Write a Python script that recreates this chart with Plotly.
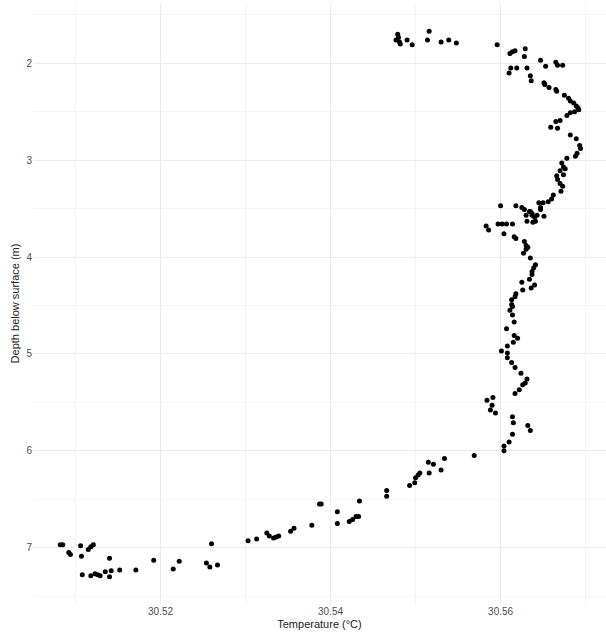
import plotly.graph_objects as go

# Temperature (°C) and depth below surface (m)
temperature = [
    30.5479, 30.5480, 30.5477, 30.5481, 30.5482, 30.5490, 30.5496, 30.5516, 30.5514, 30.5530,
    30.5539, 30.5548, 30.5596, 30.5611, 30.5614, 30.5617, 30.5629, 30.5628, 30.5647, 30.5653,
    30.5665, 30.5667, 30.5673, 30.5610, 30.5612, 30.5619, 30.5631, 30.5635, 30.5636, 30.5651,
    30.5652, 30.5657, 30.5665, 30.5666, 30.5675, 30.5680, 30.5682, 30.5686, 30.5689, 30.5691,
    30.5692, 30.5687, 30.5682, 30.5678, 30.5670, 30.5665, 30.5659, 30.5667, 30.5682, 30.5689,
    30.5693, 30.5694, 30.5690, 30.5688, 30.5678, 30.5672, 30.5674, 30.5676, 30.5670, 30.5674,
    30.5666, 30.5667, 30.5670, 30.5673, 30.5671, 30.5662, 30.5660, 30.5656, 30.5650, 30.5645,
    30.5600, 30.5618, 30.5625, 30.5628, 30.5634, 30.5637, 30.5647, 30.5647, 30.5630, 30.5635,
    30.5637, 30.5640, 30.5643, 30.5651, 30.5631, 30.5638, 30.5641, 30.5583, 30.5586, 30.5597,
    30.5602, 30.5607, 30.5614, 30.5604, 30.5616, 30.5618, 30.5628, 30.5630, 30.5632, 30.5630,
    30.5627, 30.5635, 30.5641, 30.5639, 30.5637, 30.5637, 30.5634, 30.5625, 30.5640, 30.5636,
    30.5626, 30.5618, 30.5617, 30.5613, 30.5613, 30.5614, 30.5611, 30.5614, 30.5616, 30.5607,
    30.5616, 30.5620, 30.5615, 30.5608, 30.5601, 30.5608, 30.5608, 30.5613, 30.5617, 30.5624,
    30.5631, 30.5629, 30.5626, 30.5622, 30.5617, 30.5591, 30.5584, 30.5590, 30.5588, 30.5594,
    30.5614, 30.5615, 30.5632, 30.5635, 30.5614, 30.5610, 30.5604, 30.5604, 30.5569, 30.5534,
    30.5521, 30.5515, 30.5530, 30.5516, 30.5505, 30.5503, 30.5500, 30.5499, 30.5493, 30.5466,
    30.5466, 30.5434, 30.5433, 30.5430, 30.5426, 30.5422, 30.5408, 30.5408, 30.5389, 30.5387,
    30.5378, 30.5357, 30.5353, 30.5339, 30.5336, 30.5333, 30.5328, 30.5325, 30.5313, 30.5303,
    30.5260, 30.5254, 30.5258, 30.5267, 30.5222, 30.5215, 30.5192, 30.5171, 30.5152, 30.5142,
    30.5140, 30.5140, 30.5135, 30.5129, 30.5126, 30.5123, 30.5118, 30.5108, 30.5121, 30.5118,
    30.5115, 30.5107, 30.5106, 30.5094, 30.5092, 30.5082, 30.5085,
]
depth = [
    1.70, 1.735, 1.76, 1.78, 1.80, 1.76, 1.81, 1.67, 1.76, 1.78,
    1.76, 1.79, 1.81, 1.90, 1.88, 1.87, 1.85, 1.93, 1.97, 2.03,
    1.99, 2.02, 2.02, 2.10, 2.05, 2.05, 2.05, 2.13, 2.18, 2.20,
    2.22, 2.25, 2.27, 2.29, 2.33, 2.36, 2.39, 2.41, 2.44, 2.46,
    2.48, 2.50, 2.51, 2.54, 2.59, 2.60, 2.66, 2.67, 2.74, 2.78,
    2.85, 2.88, 2.93, 2.96, 2.98, 3.03, 3.07, 3.09, 3.11, 3.15,
    3.16, 3.20, 3.24, 3.27, 3.32, 3.36, 3.40, 3.43, 3.44, 3.44,
    3.47, 3.47, 3.49, 3.51, 3.53, 3.55, 3.49, 3.51, 3.57, 3.53,
    3.57, 3.59, 3.57, 3.58, 3.63, 3.64, 3.63, 3.68, 3.72, 3.66,
    3.66, 3.66, 3.66, 3.76, 3.79, 3.81, 3.84, 3.88, 3.90, 3.92,
    3.96, 4.01, 4.08, 4.11, 4.15, 4.18, 4.23, 4.26, 4.29, 4.32,
    4.34, 4.38, 4.41, 4.44, 4.49, 4.51, 4.55, 4.60, 4.67, 4.74,
    4.81, 4.84, 4.88, 4.92, 4.97, 4.99, 5.04, 5.09, 5.14, 5.20,
    5.26, 5.30, 5.32, 5.37, 5.41, 5.45, 5.48, 5.53, 5.58, 5.61,
    5.65, 5.71, 5.74, 5.79, 5.83, 5.91, 5.95, 6.00, 6.05, 6.08,
    6.14, 6.12, 6.20, 6.23, 6.23, 6.25, 6.28, 6.33, 6.36, 6.41,
    6.47, 6.52, 6.68, 6.68, 6.71, 6.73, 6.63, 6.75, 6.55, 6.55,
    6.77, 6.80, 6.83, 6.88, 6.89, 6.90, 6.88, 6.85, 6.91, 6.93,
    6.96, 7.16, 7.20, 7.18, 7.14, 7.22, 7.13, 7.23, 7.23, 7.24,
    7.30, 7.11, 7.25, 7.29, 7.28, 7.27, 7.29, 7.28, 6.97, 6.99,
    7.02, 7.09, 6.98, 7.07, 7.05, 6.97, 6.97,
]

x_ticks = [30.52, 30.54, 30.56]
x_tick_text = ["30.52", "30.54", "30.56"]
y_ticks = [2, 3, 4, 5, 6, 7]
y_tick_text = ["2", "3", "4", "5", "6", "7"]

fig = go.Figure(
    go.Scatter(
        x=temperature, y=depth, mode="markers",
        marker=dict(color="black", size=5, line=dict(width=0)),
        hoverinfo="skip",
    )
)

grid_major = "#EBEBEB"
grid_minor = "#F4F4F4"
tick_font = dict(family="Liberation Sans, Arial, sans-serif", size=10, color="#4D4D4D")
title_font = dict(family="Liberation Sans, Arial, sans-serif", size=11, color="#222222")

fig.update_layout(
    width=606, height=636,
    margin=dict(l=33, r=0, t=3, b=32),
    paper_bgcolor="white", plot_bgcolor="white",
    showlegend=False,
    xaxis=dict(
        range=[30.5050, 30.5724],
        tickvals=x_ticks, ticktext=x_tick_text,
        showgrid=True, gridcolor=grid_major, gridwidth=1,
        minor=dict(dtick=0.01, tick0=30.51, showgrid=True, gridcolor=grid_minor, gridwidth=1),
        zeroline=False, showline=False, ticks="",
        tickfont=tick_font,
        title=dict(text="Temperature (°C)", font=title_font, standoff=4),
        automargin=False,
    ),
    yaxis=dict(
        range=[7.582, 1.378],
        tickvals=y_ticks, ticktext=y_tick_text,
        showgrid=True, gridcolor=grid_major, gridwidth=1,
        minor=dict(dtick=0.5, tick0=1.5, showgrid=True, gridcolor=grid_minor, gridwidth=1),
        zeroline=False, showline=False, ticks="",
        tickfont=tick_font,
        title=dict(text="Depth below surface (m)", font=title_font, standoff=4),
        automargin=False,
    ),
)

fig.write_html("out.html")
